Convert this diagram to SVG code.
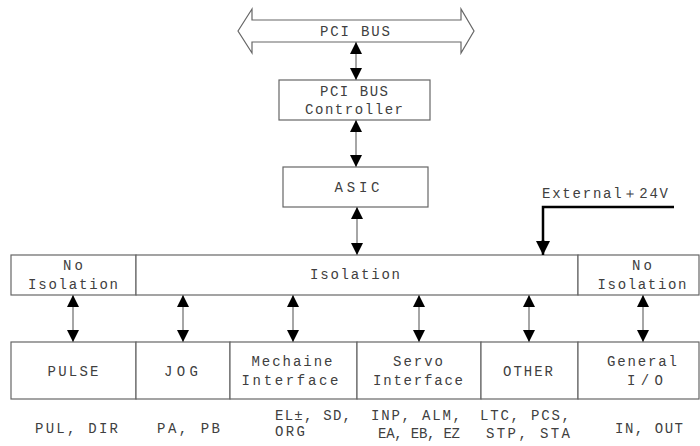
<svg xmlns="http://www.w3.org/2000/svg" width="700" height="446" viewBox="0 0 700 446">
<style>
  .box { fill: #ffffff; stroke: #666666; stroke-width: 1.2; }
  .t { font-family: "Liberation Mono", "DejaVu Sans Mono", monospace; font-size: 14px; fill: #404040; text-anchor: middle; }
  .ts { font-family: "Liberation Mono", "DejaVu Sans Mono", monospace; font-size: 14px; fill: #404040; }
  .shaft { stroke: #888888; stroke-width: 1.5; fill: none; }
  .ext { stroke: #000000; stroke-width: 2.5; fill: none; }
</style>
<defs>
  <marker id="ah" viewBox="0 0 12 12" markerUnits="userSpaceOnUse" markerWidth="12" markerHeight="13" refX="12" refY="6" orient="auto-start-reverse">
    <path d="M0,0 L12,6 L0,12 z" fill="#000000"/>
  </marker>
  <marker id="ah2" viewBox="0 0 14 14" markerUnits="userSpaceOnUse" markerWidth="14" markerHeight="14" refX="14" refY="7" orient="auto">
    <path d="M0,0 L14,7 L0,14 z" fill="#000000"/>
  </marker>
</defs>

<g id="pci-bus">
  <polygon class="box" points="238,31 252,9 252,20 461,20 461,9 474,31 461,53 461,42 252,42 252,53"/>
  <text class="t" x="355" y="36" textLength="70" lengthAdjust="spacing">PCI BUS</text>
</g>

<g id="pci-controller">
  <rect class="box" x="279" y="80" width="151" height="40"/>
  <text class="t" x="354" y="96" textLength="68" lengthAdjust="spacing">PCI BUS</text>
  <text class="t" x="354" y="114" textLength="98" lengthAdjust="spacing">Controller</text>
</g>

<g id="asic">
  <rect class="box" x="283" y="167" width="145" height="40"/>
  <text class="t" x="357" y="192" textLength="45" lengthAdjust="spacing">ASIC</text>
</g>

<g id="no-isolation-left">
  <rect class="box" x="11" y="255" width="125" height="40"/>
  <text class="t" x="73" y="270" textLength="20" lengthAdjust="spacing">No</text>
  <text class="t" x="73" y="289" textLength="90" lengthAdjust="spacing">Isolation</text>
</g>
<g id="isolation">
  <rect class="box" x="136" y="255" width="442" height="40"/>
  <text class="t" x="355" y="279" textLength="90" lengthAdjust="spacing">Isolation</text>
</g>
<g id="no-isolation-right">
  <rect class="box" x="578" y="255" width="121" height="40"/>
  <text class="t" x="642" y="270" textLength="20" lengthAdjust="spacing">No</text>
  <text class="t" x="642" y="289" textLength="89" lengthAdjust="spacing">Isolation</text>
</g>

<g id="external-24v">
  <text class="ts" x="542" y="198" textLength="126" lengthAdjust="spacing">External＋24V</text>
</g>

<g id="pulse">
  <rect class="box" x="11" y="342" width="125" height="57"/>
  <text class="t" x="73" y="376" textLength="51" lengthAdjust="spacing">PULSE</text>
</g>
<g id="jog">
  <rect class="box" x="136" y="342" width="94" height="57"/>
  <text class="t" x="181" y="376" textLength="34" lengthAdjust="spacing">JOG</text>
</g>
<g id="mechaine">
  <rect class="box" x="230" y="342" width="127" height="57"/>
  <text class="t" x="292" y="366" textLength="81" lengthAdjust="spacing">Mechaine</text>
  <text class="t" x="290" y="385" textLength="97" lengthAdjust="spacing">Interface</text>
</g>
<g id="servo">
  <rect class="box" x="357" y="342" width="124" height="57"/>
  <text class="t" x="418" y="366" textLength="50" lengthAdjust="spacing">Servo</text>
  <text class="t" x="418" y="385" textLength="90" lengthAdjust="spacing">Interface</text>
</g>
<g id="other">
  <rect class="box" x="481" y="342" width="97" height="57"/>
  <text class="t" x="528" y="376" textLength="50" lengthAdjust="spacing">OTHER</text>
</g>
<g id="general-io">
  <rect class="box" x="578" y="342" width="121" height="57"/>
  <text class="t" x="642" y="366" textLength="70" lengthAdjust="spacing">General</text>
  <text class="t" x="645" y="385" textLength="36" lengthAdjust="spacing">I/O</text>
</g>

<g id="signal-labels">
  <text class="ts" x="35" y="433" textLength="83" lengthAdjust="spacing">PUL, DIR</text>
  <text class="ts" x="157" y="433" textLength="63" lengthAdjust="spacing">PA, PB</text>
  <text class="ts" x="275" y="420" textLength="76" lengthAdjust="spacing">EL±, SD,</text>
  <text class="ts" x="275" y="436" textLength="30" lengthAdjust="spacing">ORG</text>
  <text class="ts" x="371" y="420" textLength="90" lengthAdjust="spacing">INP, ALM,</text>
  <text class="ts" x="378" y="438" textLength="82" lengthAdjust="spacing">EA, EB, EZ</text>
  <text class="ts" x="480" y="420" textLength="90" lengthAdjust="spacing">LTC, PCS,</text>
  <text class="ts" x="486" y="438" textLength="84" lengthAdjust="spacing">STP, STA</text>
  <text class="ts" x="615" y="433" textLength="68" lengthAdjust="spacing">IN, OUT</text>
</g>

<g id="connectors">
  <line class="shaft" x1="356" y1="42" x2="356" y2="80" marker-start="url(#ah)" marker-end="url(#ah)"/>
  <line class="shaft" x1="356" y1="120" x2="356" y2="167" marker-start="url(#ah)" marker-end="url(#ah)"/>
  <line class="shaft" x1="357" y1="207" x2="357" y2="255" marker-start="url(#ah)" marker-end="url(#ah)"/>
  <polyline class="ext" points="674,207 543,207 543,243"/>
  <line x1="543" y1="240" x2="543" y2="255" stroke="#000" stroke-width="2.5" marker-end="url(#ah2)"/>
  <line class="shaft" x1="73" y1="295" x2="73" y2="342" marker-start="url(#ah)" marker-end="url(#ah)"/>
  <line class="shaft" x1="183" y1="295" x2="183" y2="342" marker-start="url(#ah)" marker-end="url(#ah)"/>
  <line class="shaft" x1="293" y1="295" x2="293" y2="342" marker-start="url(#ah)" marker-end="url(#ah)"/>
  <line class="shaft" x1="419" y1="295" x2="419" y2="342" marker-start="url(#ah)" marker-end="url(#ah)"/>
  <line class="shaft" x1="529" y1="295" x2="529" y2="342" marker-start="url(#ah)" marker-end="url(#ah)"/>
  <line class="shaft" x1="643" y1="295" x2="643" y2="342" marker-start="url(#ah)" marker-end="url(#ah)"/>
</g>
</svg>
